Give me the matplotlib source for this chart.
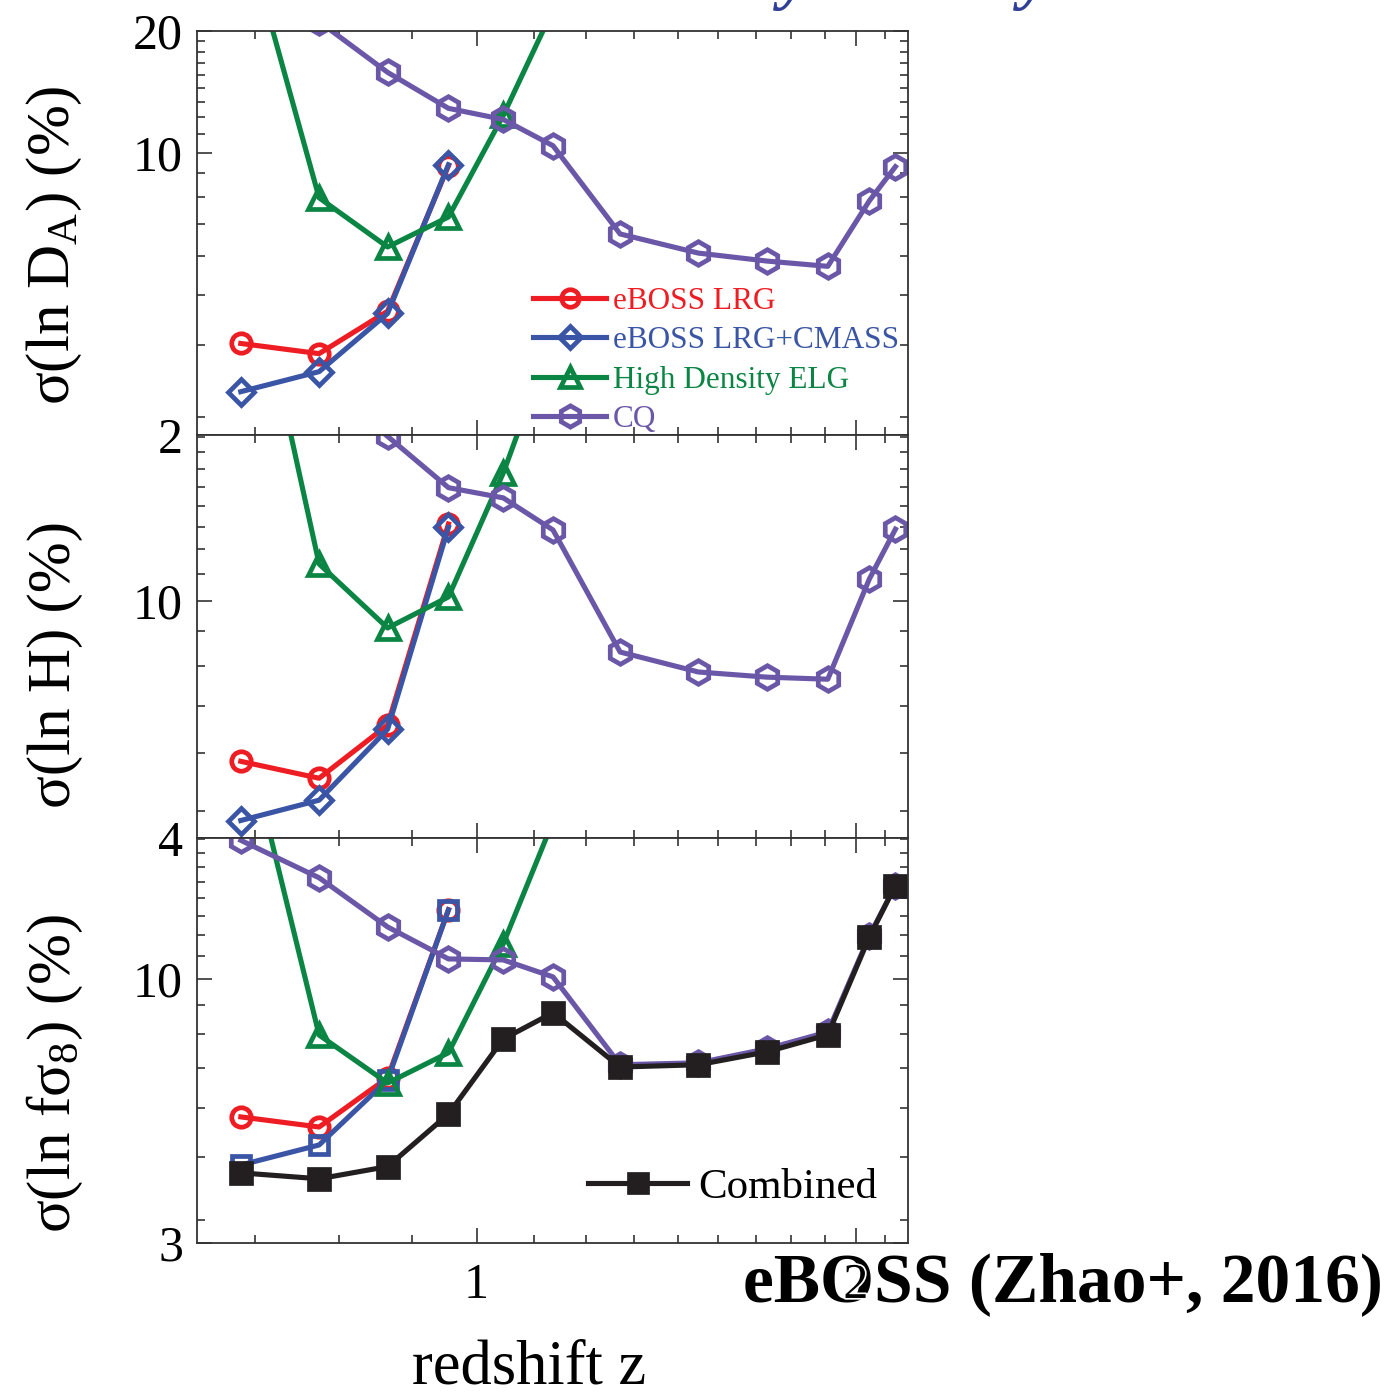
import matplotlib.pyplot as plt
import matplotlib.patheffects as pe
from matplotlib.ticker import FixedLocator, NullFormatter

plt.rcParams['font.family'] = ['Liberation Serif', 'DejaVu Serif']
plt.rcParams['mathtext.fontset'] = 'custom'
plt.rcParams['mathtext.rm'] = 'Liberation Serif'
plt.rcParams['mathtext.it'] = 'Liberation Serif:italic'

###########################################################
### ---------------------- DATA ---------------------------
###########################################################

z_lrg = [0.65, 0.75, 0.85, 0.95]
z_elg = [0.65, 0.75, 0.85, 0.95, 1.05, 1.15]
z_cq = [0.65, 0.75, 0.85, 0.95, 1.05, 1.15, 1.3, 1.5, 1.7, 1.9, 2.05, 2.15]

# sigma(ln D_A) (%)
da_lrg = [3.37, 3.18, 4.05, 9.28]
da_lrg_cmass = [2.56, 2.87, 4.00, 9.33]
da_elg = [38.6, 7.73, 5.84, 6.93, 12.36, 22.6]
da_cq = [27.0, 21.1, 15.8, 12.87, 12.08, 10.4, 6.29, 5.64, 5.39, 5.23, 7.6, 9.23]

# sigma(ln H) (%)
h_lrg = [5.38, 5.04, 6.19, 13.47]
h_lrg_cmass = [4.28, 4.63, 6.09, 13.3]
h_elg = [46.0, 11.54, 9.01, 10.16, 16.4, 27.8]
h_cq = [30.0, 23.5, 18.9, 15.5, 14.9, 13.16, 8.21, 7.6, 7.45, 7.39, 10.89, 13.2]

# sigma(ln f sigma_8) (%)
f_lrg = [5.33, 5.09, 6.37, 13.7]
f_lrg_cmass = [4.28, 4.69, 6.31, 13.7]
f_elg = [33.3, 7.74, 6.22, 7.14, 11.73, 20.5]
f_cq = [18.8, 15.85, 12.67, 10.95, 10.9, 10.09, 6.76, 6.82, 7.27, 7.85, 12.17, 15.3]
f_combined = [4.13, 4.02, 4.25, 5.40, 7.6, 8.57, 6.69, 6.76, 7.17, 7.75, 12.1, 15.3]

labels = ['eBOSS LRG', 'eBOSS LRG+CMASS', 'High Density ELG', 'CQ']

red = '#EE1D23'
blue = '#3A55A5'
green = '#0B8543'
purple = '#6B57A7'
black = '#231F20'

###########################################################
### ---------------------- FUNCTIONS ----------------------
###########################################################

W, H = 1390, 1397

def px_axes(top, bottom):
    return [197 / W, 1 - bottom / H, 711 / W, (bottom - top) / H]

def style_axis(ax, ymin, ymax, yticks, show_x):
    ax.set_xscale('log')
    ax.set_yscale('log')
    ax.set_xlim(0.6, 2.2)
    ax.set_ylim(ymin, ymax)

    # origin style: 8 linear minor ticks between majors
    ax.xaxis.set_major_locator(FixedLocator([1, 2]))
    ax.xaxis.set_minor_locator(FixedLocator([1 + k / 9 for k in range(-3, 11) if k not in (0, 9)]))
    ax.yaxis.set_major_locator(FixedLocator(yticks))
    ax.yaxis.set_minor_locator(FixedLocator([k * 10 / 9 for k in range(2, 18) if k != 9]))
    ax.yaxis.set_major_formatter(plt.FixedFormatter([str(t) for t in yticks]))
    ax.yaxis.set_minor_formatter(NullFormatter())
    ax.xaxis.set_minor_formatter(NullFormatter())
    if show_x:
        ax.xaxis.set_major_formatter(plt.FixedFormatter(['1', '2']))
    else:
        ax.xaxis.set_major_formatter(NullFormatter())

    ax.tick_params(which='both', direction='in', top=True, right=True,
                   width=1.2, color='#333333', labelsize=36)
    ax.tick_params(which='major', length=11)
    ax.tick_params(which='minor', length=6)
    ax.tick_params(axis='y', pad=10)
    ax.tick_params(axis='x', pad=14)
    for s in ax.spines.values():
        s.set_linewidth(1.3)
        s.set_color('#333333')

def draw(ax, x, y, color, marker, ms, label=None, mfc='none'):
    ax.plot(x, y, color=color, lw=3.7, marker=marker, ms=ms, mfc=mfc,
            mec=color, mew=3.4, label=label)

###########################################################
### ---------------------- PLOT ---------------------------
###########################################################

fig = plt.figure(figsize=(W / 100, H / 100), dpi=100)

ax1 = fig.add_axes(px_axes(31, 435))
ax2 = fig.add_axes(px_axes(435, 838))
ax3 = fig.add_axes(px_axes(838, 1243))

# sigma(ln D_A)
draw(ax1, z_lrg, da_lrg, red, 'o', 14, labels[0])
draw(ax1, z_lrg, da_lrg_cmass, blue, 'D', 13, labels[1])
draw(ax1, z_elg, da_elg, green, '^', 16, labels[2])
draw(ax1, z_cq, da_cq, purple, 'h', 17, labels[3])
style_axis(ax1, 2, 20, [2, 10, 20], False)
ax1.legend(loc='upper left', bbox_to_anchor=(533 / W, 1 - 287 / H),
           bbox_transform=fig.transFigure, frameon=False, fontsize=22.5,
           handlelength=2.35, handletextpad=0.2, labelspacing=0.33,
           borderpad=0, borderaxespad=0, labelcolor='linecolor', markerscale=0.9)
ax1.set_ylabel(r'σ(ln D$_\mathrm{A}$) (%)', fontsize=44, va='center')
ax1.yaxis.set_label_coords(-0.2, 0.47)

# sigma(ln H)
draw(ax2, z_lrg, h_lrg, red, 'o', 14)
draw(ax2, z_lrg, h_lrg_cmass, blue, 'D', 13)
draw(ax2, z_elg, h_elg, green, '^', 16)
draw(ax2, z_cq, h_cq, purple, 'h', 17)
style_axis(ax2, 4, 19, [4, 10], False)
ax2.set_ylabel('σ(ln H) (%)', fontsize=44, va='center')
ax2.yaxis.set_label_coords(-0.2, 0.43)

# sigma(ln f sigma_8)
draw(ax3, z_lrg, f_lrg, red, 'o', 14)
draw(ax3, z_lrg, f_lrg_cmass, blue, 's', 13)
draw(ax3, z_elg, f_elg, green, '^', 16)
draw(ax3, z_cq, f_cq, purple, 'h', 17)
draw(ax3, z_cq, f_combined, black, 's', 14, 'Combined', mfc=black)
style_axis(ax3, 3, 19, [3, 10], True)
h, l = ax3.get_legend_handles_labels()
ax3.legend(h[-1:], l[-1:], loc='center left', bbox_to_anchor=(588 / W, 1 - 1187 / H),
           bbox_transform=fig.transFigure, frameon=False, fontsize=31,
           handlelength=2.3, handletextpad=0.25, borderpad=0, borderaxespad=0,
           markerscale=0.9)
ax3.set_ylabel(r'σ(ln fσ$_\mathrm{8}$) (%)', fontsize=44, va='center')
ax3.yaxis.set_label_coords(-0.2, 0.42)
ax3.set_xlabel('redshift z', fontsize=45, va='center')
ax3.xaxis.set_label_coords(0.467, -0.31)
# the "2" label sits on the big caption, with a thin white edge as in the original
for t in ax3.get_xticklabels():
    t.set_path_effects([pe.withStroke(linewidth=2.5, foreground='white')])

# drawn under the axes so the x tick label "2" lands on top of it
fig.text(1063 / W, 1 - 1284 / H, 'eBOSS (Zhao+, 2016)', fontsize=50,
         fontweight='bold', ha='center', va='center', zorder=-1)

# cut-off title letters at the very top
for xp in [795, 1035]:
    fig.text(xp / W, 1 + 4 / H, 'y', color='#2E3F95', fontsize=50,
             fontweight='bold', style='italic', ha='center', va='baseline')

fig.savefig('out.png', dpi=100)
